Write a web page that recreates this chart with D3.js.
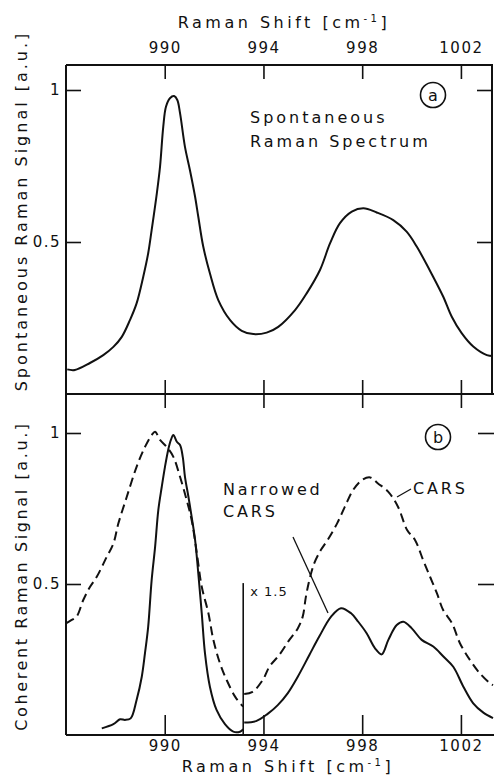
<!DOCTYPE html>
<html>
<head>
<meta charset="utf-8">
<script src="https://cdn.jsdelivr.net/npm/d3@7/dist/d3.min.js"></script>
<style>
  body { margin: 0; background: #fff; }
  text { font-family: "DejaVu Sans", sans-serif; fill: #111; }
</style>
</head>
<body>
<div id="chart"></div>
<script>
// data (Raman shift in cm-1, signal in a.u.)
var xTicks = [990, 994, 998, 1002];
var yTicks = [0.5, 1];

// (a) spontaneous Raman spectrum
var spontShift = [986.05, 986.36, 986.97, 987.51, 987.92, 988.26, 988.59, 988.86, 989.13, 989.33,
  989.47, 989.68, 989.81, 989.94, 990.05, 990.21, 990.38, 990.51, 990.62, 990.82, 991.02, 991.23,
  991.36, 991.56, 991.83, 992.17, 992.65, 993.12, 993.59, 994.13, 994.6, 995.28, 995.75, 996.29,
  996.7, 997.1, 997.58, 998.05, 998.59, 999.26, 999.8, 1000.21, 1000.88, 1001.29, 1001.63,
  1002.03, 1002.5, 1003.05, 1003.3];
var spontSignal = [0.081, 0.079, 0.102, 0.128, 0.155, 0.188, 0.243, 0.298, 0.386, 0.463,
  0.539, 0.66, 0.748, 0.879, 0.945, 0.973, 0.98, 0.967, 0.924, 0.813, 0.737, 0.649,
  0.583, 0.485, 0.397, 0.309, 0.243, 0.208, 0.197, 0.202, 0.221, 0.276, 0.331, 0.408,
  0.496, 0.562, 0.6, 0.611, 0.597, 0.572, 0.534, 0.485, 0.385, 0.319, 0.254,
  0.2, 0.156, 0.128, 0.125];

// (b) CARS, dashed; below the x1.5 mark and above it
var carsShiftLow = [986.0, 986.23, 986.43, 986.7, 986.97, 987.24, 987.65, 987.92, 988.12, 988.46,
  988.86, 989.2, 989.47, 989.61, 989.81, 990.08, 990.35, 990.62, 990.89, 991.09, 991.3, 991.5,
  991.77, 991.97, 992.24, 992.51, 992.85, 993.12, 993.18];
var carsSignalLow = [0.37, 0.381, 0.392, 0.447, 0.49, 0.523, 0.59, 0.634, 0.7, 0.788,
  0.888, 0.954, 0.993, 1.004, 0.977, 0.954, 0.921, 0.855, 0.778, 0.712, 0.602, 0.491,
  0.403, 0.315, 0.237, 0.182, 0.127, 0.099, 0.094];
var carsShiftHigh = [993.22, 993.56, 993.97, 994.24, 994.64, 995.05, 995.39, 995.59, 995.72, 995.86,
  996.06, 996.33, 996.6, 996.98, 997.3, 997.63, 997.99, 998.32, 998.64, 999.05, 999.45, 999.82,
  1000.14, 1000.47, 1000.75, 1001.03, 1001.28, 1001.64, 1001.96, 1002.37, 1002.77, 1003.18, 1003.3];
var carsSignalHigh = [0.136, 0.143, 0.182, 0.226, 0.265, 0.315, 0.353, 0.392, 0.458, 0.513,
  0.569, 0.613, 0.646, 0.7, 0.756, 0.811, 0.844, 0.853, 0.833, 0.806, 0.756, 0.679,
  0.646, 0.579, 0.524, 0.469, 0.414, 0.37, 0.304, 0.248, 0.204, 0.171, 0.165];

// (b) narrowed CARS, solid
var narrowShiftLow = [987.45, 987.92, 988.19, 988.39, 988.62, 988.86, 989.07, 989.2, 989.33, 989.47,
  989.61, 989.74, 989.88, 990.01, 990.14, 990.25, 990.35, 990.49, 990.62, 990.73, 990.82, 990.96,
  991.09, 991.23, 991.36, 991.5, 991.63, 991.83, 992.1, 992.44, 992.78, 993.05, 993.18];
var narrowSignalLow = [0.022, 0.036, 0.052, 0.05, 0.055, 0.116, 0.193, 0.271, 0.359, 0.513,
  0.623, 0.745, 0.822, 0.888, 0.944, 0.977, 0.993, 0.971, 0.96, 0.921, 0.855, 0.789,
  0.723, 0.646, 0.535, 0.403, 0.271, 0.16, 0.083, 0.036, 0.011, 0.011, 0.019];
var narrowShiftHigh = [993.22, 993.7, 994.17, 994.58, 994.98, 995.39, 995.86, 996.26, 996.74,
  997.14, 997.55, 997.84, 998.18, 998.52, 998.79, 999.06, 999.4, 999.67, 1000.01, 1000.41,
  1000.88, 1001.29, 1001.69, 1002.1, 1002.5, 1002.91, 1003.3];
var narrowSignalHigh = [0.041, 0.046, 0.07, 0.099, 0.138, 0.193, 0.265, 0.326, 0.392,
  0.42, 0.403, 0.375, 0.337, 0.287, 0.267, 0.315, 0.364, 0.375, 0.353, 0.315,
  0.293, 0.26, 0.226, 0.16, 0.105, 0.074, 0.056];

var breakShift = 993.18;   // vertical "x 1.5" marker
var breakTop = 0.503;

var svgWidth = 494;
var svgHeight = 776;

var $svg = d3.select("#chart").append("svg")
  .attr("width", svgWidth)
  .attr("height", svgHeight);

// scales
var xScale = d3.scaleLinear().domain([986, 1003.3]).range([66, 493]);
var yTop = d3.scaleLinear().domain([0, 1]).range([394, 90]);
var yBot = d3.scaleLinear().domain([0, 1]).range([735, 433]);

function zip(xs, ys) { return xs.map(function(v, i) { return [v, ys[i]]; }); }

var lineTop = d3.line().x(d => xScale(d[0])).y(d => yTop(d[1])).curve(d3.curveCatmullRom);
var lineBot = d3.line().x(d => xScale(d[0])).y(d => yBot(d[1])).curve(d3.curveCatmullRom);

// frame
var frame = $svg.append("g").attr("stroke", "#111").attr("stroke-width", 2).attr("fill", "none");
frame.append("path").attr("d", "M66,65 H492 V394");
frame.append("line").attr("x1", 66).attr("x2", 66).attr("y1", 65).attr("y2", 735);
frame.append("line").attr("x1", 66).attr("x2", 494).attr("y1", 394).attr("y2", 394);
frame.append("line").attr("x1", 66).attr("x2", 494).attr("y1", 735).attr("y2", 735);

// axes
function styleAxis(g) {
  g.select(".domain").remove();
  g.selectAll(".tick line").attr("stroke", "#111").attr("stroke-width", 1.6);
  g.selectAll(".tick text").attr("font-size", "15px").attr("letter-spacing", "1.5px")
    .attr("font-family", "DejaVu Sans, sans-serif").attr("fill", "#111");
}

$svg.append("g").attr("transform", "translate(0,65)")
  .call(d3.axisTop(xScale).tickValues(xTicks).tickSize(-14).tickPadding(12).tickFormat(d3.format("d")))
  .call(styleAxis);

// middle axis: ticks cross the line
$svg.append("g").attr("transform", "translate(0,380)")
  .call(d3.axisBottom(xScale).tickValues(xTicks).tickSize(28).tickFormat(""))
  .call(styleAxis);

$svg.append("g").attr("transform", "translate(0,735)")
  .call(d3.axisBottom(xScale).tickValues(xTicks).tickSize(-20).tickPadding(5).tickFormat(d3.format("d")))
  .call(styleAxis);

var yFmt = function(d) { return d === 1 ? "1" : "0.5"; };
$svg.append("g").attr("transform", "translate(66,0)")
  .call(d3.axisLeft(yTop).tickValues(yTicks).tickSize(-15).tickPadding(5).tickFormat(yFmt))
  .call(styleAxis);
$svg.append("g").attr("transform", "translate(492,0)")
  .call(d3.axisRight(yTop).tickValues(yTicks).tickSize(-15).tickFormat(""))
  .call(styleAxis);
$svg.append("g").attr("transform", "translate(66,0)")
  .call(d3.axisLeft(yBot).tickValues(yTicks).tickSize(-15).tickPadding(5).tickFormat(yFmt))
  .call(styleAxis);
$svg.append("g").attr("transform", "translate(494,0)")
  .call(d3.axisRight(yBot).tickValues(yTicks).tickSize(-16).tickFormat(""))
  .call(styleAxis);

// curves
var curves = $svg.append("g").attr("fill", "none").attr("stroke", "#111").attr("stroke-width", 2);
curves.append("path").attr("d", lineTop(zip(spontShift, spontSignal)));
curves.append("path").attr("d", lineBot(zip(narrowShiftLow, narrowSignalLow)));
curves.append("path").attr("d", lineBot(zip(narrowShiftHigh, narrowSignalHigh)));
curves.append("path").attr("d", lineBot(zip(carsShiftLow, carsSignalLow))).attr("stroke-dasharray", "9,5");
curves.append("path").attr("d", lineBot(zip(carsShiftHigh, carsSignalHigh))).attr("stroke-dasharray", "9,5");

// x1.5 marker
$svg.append("line")
  .attr("x1", xScale(breakShift)).attr("x2", xScale(breakShift))
  .attr("y1", yBot(0)).attr("y2", yBot(breakTop))
  .attr("stroke", "#111").attr("stroke-width", 1.6);
$svg.append("text").attr("x", xScale(breakShift) + 7).attr("y", yBot(breakTop) + 13)
  .attr("font-size", "13px").attr("letter-spacing", "1px").text("x 1.5");

// titles
var supHtml = "Raman Shift [cm<tspan dy='-6' font-size='10px'>-1</tspan><tspan dy='6'>]</tspan>";
$svg.append("text").attr("x", 284).attr("y", 28).attr("text-anchor", "middle")
  .attr("font-size", "16px").attr("letter-spacing", "3.5px").html(supHtml);
$svg.append("text").attr("x", 288).attr("y", 772).attr("text-anchor", "middle")
  .attr("font-size", "16px").attr("letter-spacing", "3.5px").html(supHtml);

$svg.append("text").attr("transform", "translate(27,211) rotate(-90)").attr("text-anchor", "middle")
  .attr("font-size", "16px").attr("letter-spacing", "3px")
  .text("Spontaneous Raman Signal [a.u.]");
$svg.append("text").attr("transform", "translate(27,576) rotate(-90)").attr("text-anchor", "middle")
  .attr("font-size", "16px").attr("letter-spacing", "2.6px")
  .text("Coherent Raman Signal [a.u.]");

// annotations
$svg.append("text").attr("x", 250).attr("y", 123).attr("font-size", "16px").attr("letter-spacing", "3px")
  .text("Spontaneous");
$svg.append("text").attr("x", 250).attr("y", 147).attr("font-size", "16px").attr("letter-spacing", "3px")
  .text("Raman Spectrum");

$svg.append("text").attr("x", 223).attr("y", 495).attr("font-size", "16px").attr("letter-spacing", "2.8px")
  .text("Narrowed");
$svg.append("text").attr("x", 223).attr("y", 517).attr("font-size", "16px").attr("letter-spacing", "2.8px")
  .text("CARS");
$svg.append("line").attr("x1", 293).attr("y1", 537).attr("x2", 328).attr("y2", 613)
  .attr("stroke", "#111").attr("stroke-width", 1.3);

$svg.append("text").attr("x", 413).attr("y", 494).attr("font-size", "16px").attr("letter-spacing", "2.8px")
  .text("CARS");
$svg.append("line").attr("x1", 397).attr("y1", 497).attr("x2", 411).attr("y2", 489)
  .attr("stroke", "#111").attr("stroke-width", 1.3);

// panel letters
[["a", 433, 95], ["b", 438, 437]].forEach(function(p) {
  $svg.append("circle").attr("cx", p[1]).attr("cy", p[2]).attr("r", 12.5)
    .attr("fill", "none").attr("stroke", "#111").attr("stroke-width", 1.6);
  $svg.append("text").attr("x", p[1]).attr("y", p[2] + 6).attr("text-anchor", "middle")
    .attr("font-size", "16px").text(p[0]);
});
</script>
</body>
</html>
